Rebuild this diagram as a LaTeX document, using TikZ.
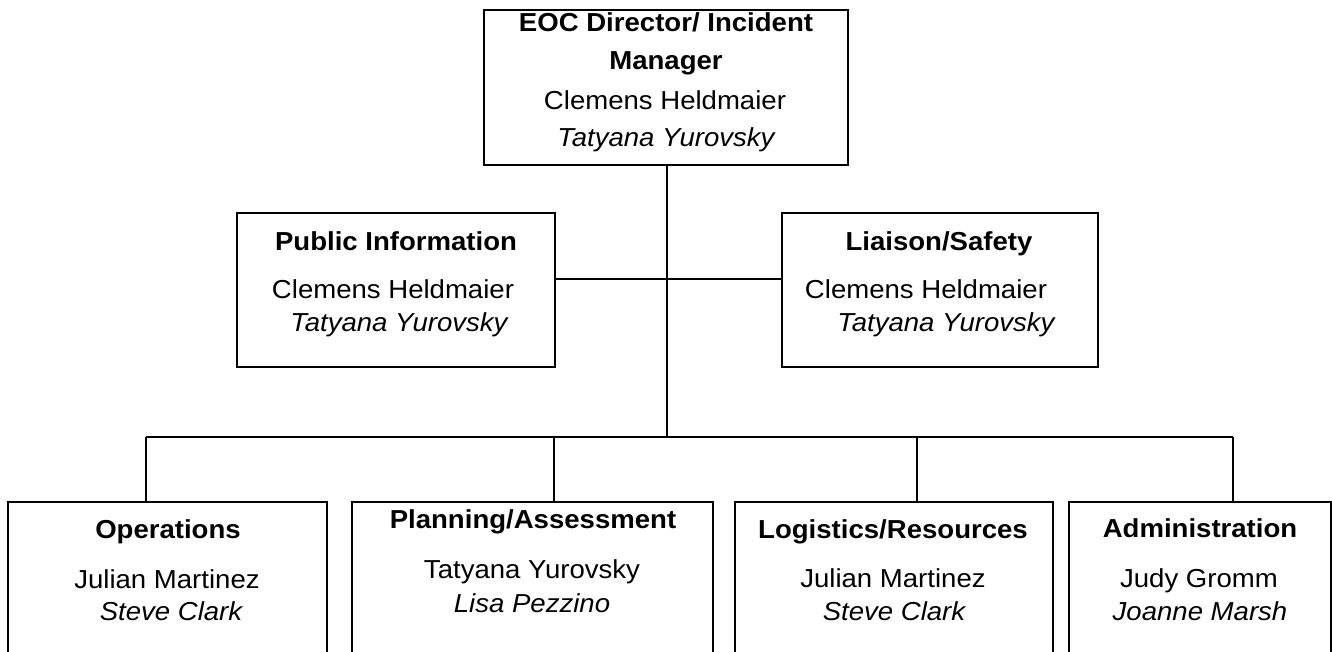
\documentclass[tikz,border=0pt]{standalone}
\usepackage{fontspec}
\setmainfont{Liberation Sans}[FakeStretch=1.06]
\usetikzlibrary{positioning}

\def\PX{0.02cm}

\begin{document}
\begin{tikzpicture}[x=\PX,y=-\PX,
    orgbox/.style={draw,line width=0.7pt,rectangle,inner sep=0pt},
    boxtitle/.style={anchor=base,inner sep=0pt,
                     font=\fontsize{14.8}{18}\selectfont\bfseries},
    holder/.style={anchor=base,inner sep=0pt,
                   font=\fontsize{14.8}{18}\selectfont},
    deputy/.style={holder,font=\fontsize{14.8}{18}\selectfont\itshape},
    link/.style={line width=0.7pt}]
    %
    \useasboundingbox (0,0) rectangle (1332,652);
    \clip (0,0) rectangle (1332,652);
    %
    %
        % Director
    \node[orgbox,minimum width=364*\PX,minimum height=155*\PX] (eoc) at (666,87.5) {};
    \node[boxtitle] (eoc-t1) at (666,32) {EOC Director/ Incident};
    \node[boxtitle] (eoc-t2) at (666,70) {Manager};
    \node[holder] (eoc-h) at (665,110) {Clemens Heldmaier};
    \node[deputy] (eoc-d) at (666,147) {Tatyana Yurovsky};
    %
        % Public information
    \node[orgbox,minimum width=318*\PX,minimum height=154*\PX] (pubinfo) at (396,290) {};
    \node[boxtitle] (pubinfo-t) at (396,250) {Public Information};
    \node[holder] (pubinfo-h) at (393,298) {Clemens Heldmaier};
    \node[deputy] (pubinfo-d) at (399,331) {Tatyana Yurovsky};
    %
        % Liaison / safety
    \node[orgbox,minimum width=316*\PX,minimum height=154*\PX] (liaison) at (940,290) {};
    \node[boxtitle] (liaison-t) at (939,250) {Liaison/Safety};
    \node[holder] (liaison-h) at (926,298) {Clemens Heldmaier};
    \node[deputy] (liaison-d) at (946,331) {Tatyana Yurovsky};
    %
    %
        % Sections
    \node[orgbox,minimum width=319*\PX,minimum height=158*\PX] (ops) at (167.5,581) {};
    \node[boxtitle] (ops-t) at (168,538) {Operations};
    \node[holder] (ops-h) at (167,588) {Julian Martinez};
    \node[deputy] (ops-d) at (171,620) {Steve Clark};
    %
    \node[orgbox,minimum width=361*\PX,minimum height=158*\PX] (plan) at (532.5,581) {};
    \node[boxtitle] (plan-t) at (533,528) {Planning/Assessment};
    \node[holder] (plan-h) at (532,578) {Tatyana Yurovsky};
    \node[deputy] (plan-d) at (532,612) {Lisa Pezzino};
    %
    \node[orgbox,minimum width=318*\PX,minimum height=158*\PX] (logi) at (894,581) {};
    \node[boxtitle] (logi-t) at (893,538) {Logistics/Resources};
    \node[holder] (logi-h) at (893,587) {Julian Martinez};
    \node[deputy] (logi-d) at (894,620) {Steve Clark};
    %
    \node[orgbox,minimum width=262*\PX,minimum height=158*\PX] (admin) at (1200,581) {};
    \node[boxtitle] (admin-t) at (1200,537) {Administration};
    \node[holder] (admin-h) at (1199,587) {Judy Gromm};
    \node[deputy] (admin-d) at (1200,620) {Joanne Marsh};
    %
    %
        % Connectors
    \coordinate (staff) at (667,279);
    \coordinate (bus) at (667,437);
    \coordinate (ops-drop) at (146,437);
    \coordinate (plan-drop) at (554,437);
    \coordinate (logi-drop) at (917,437);
    \coordinate (admin-drop) at (1233,437);
    %
    \draw[link] (eoc.south -| bus) -- (bus);
    \draw[link] (pubinfo.east |- staff) -- (liaison.west |- staff);
    \draw[link] (ops-drop) -- (admin-drop);
    \draw[link] (ops-drop) -- (ops-drop |- ops.north);
    \draw[link] (plan-drop) -- (plan-drop |- plan.north);
    \draw[link] (logi-drop) -- (logi-drop |- logi.north);
    \draw[link] (admin-drop) -- (admin-drop |- admin.north);
\end{tikzpicture}
\end{document}
